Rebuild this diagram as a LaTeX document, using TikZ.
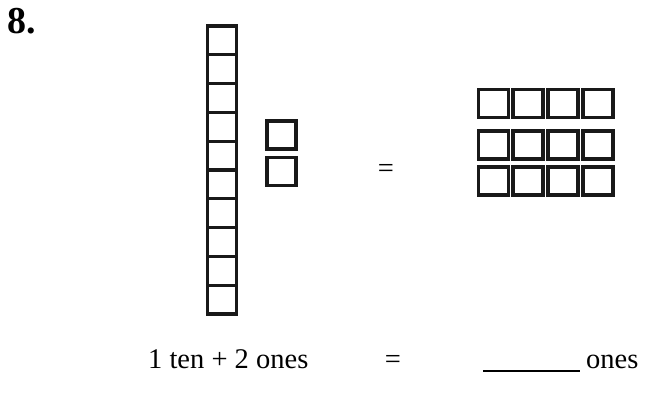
\documentclass[tikz,border=0pt]{standalone}
\usepackage{fontspec}
\setmainfont{Liberation Serif}
\begin{document}
\begin{tikzpicture}[x=1pt,y=-1pt,
  cell/.style={draw=black!90,line width=3.2pt,rectangle,inner sep=0pt,minimum width=29pt,minimum height=28.8pt},
  unit/.style={draw=black!90,line width=3.2pt,rectangle,inner sep=0pt,minimum width=29pt,minimum height=28pt},
  txt/.style={font=\fontsize{28.5}{32}\selectfont,inner sep=0pt}]
\useasboundingbox (0,0) rectangle (665,392);
\node[font=\fontsize{38}{40}\selectfont\bfseries,inner sep=0pt,anchor=base west] (num) at (7,33) {8.};
% ten rod
\foreach \i in {0,...,9}{
  \node[cell] (r\i) at (222,{40.4+28.8*\i}) {};
}
% two ones
\node[unit] (u1) at (281.5,135) {};
\node[unit] (u2) at (281.5,171.5) {};
% equals
\node[txt] (eq1) at (386,171) {=};
% 12 ones grid
\foreach \r/\y in {0/103.5,1/145,2/181}{
  \foreach \c/\x in {0/493.5,1/528,2/563,3/598}{
    \node[unit,minimum width=30pt] (g\r\c) at (\x,\y) {};
  }
}
% bottom line
\node[txt,anchor=base west] (lhs) at (148,368) {1 ten + 2 ones};
\node[txt,anchor=base] (eq2) at (393,368) {=};
\coordinate (b1) at (483,371);
\coordinate (b2) at (580,371);
\draw[line width=1.3pt] (b1) -- (b2);
\node[txt,anchor=base west] (ones) at (586,368) {ones};
\end{tikzpicture}
\end{document}
